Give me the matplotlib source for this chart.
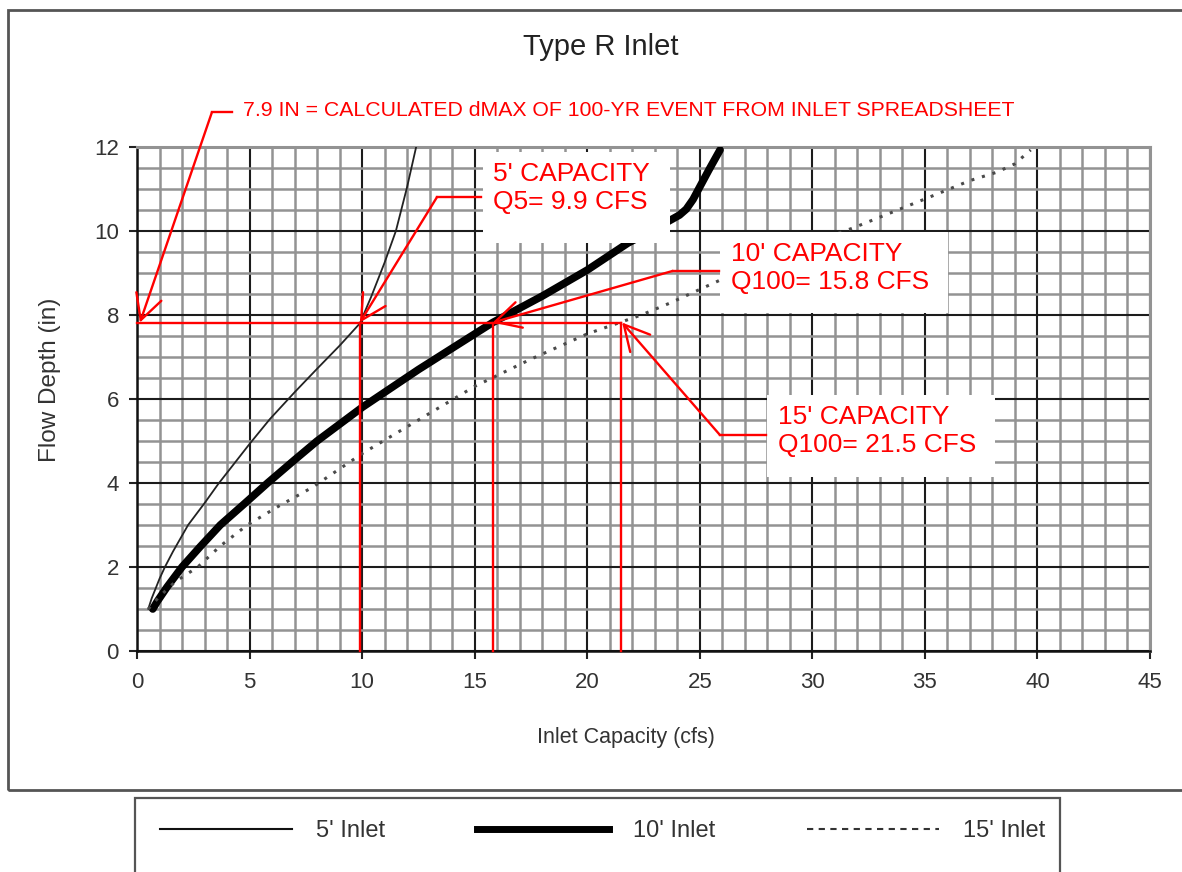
import matplotlib
matplotlib.use("Agg")
import matplotlib.pyplot as plt
from matplotlib.patches import Rectangle
from matplotlib.lines import Line2D
import numpy as np

plt.rcParams['font.family'] = ['Liberation Sans', 'DejaVu Sans']

# ---------------- data ----------------
q_5ft = [0.5, 0.65, 1.0, 1.24, 1.6, 2.27, 3.0, 3.6, 5.0, 5.9, 7.0, 8.0, 9.0, 9.9,
         10.4, 11.0, 11.5, 12.0, 12.4]
d_5ft = [1.0, 1.25, 1.72, 2.0, 2.37, 3.0, 3.52, 3.97, 4.93, 5.52, 6.16, 6.72, 7.27, 7.8,
         8.43, 9.25, 10.0, 11.05, 12.0]

q_10ft = [0.7, 0.9, 1.33, 2.0, 2.8, 3.7, 4.8, 5.8, 7.0, 8.0, 9.0, 10.0, 12.5, 15.8, 18.0,
          20.0, 21.8, 23.0, 23.7, 24.1, 24.4, 24.7, 25.0, 25.4, 25.9]
d_10ft = [1.0, 1.18, 1.52, 2.0, 2.48, 3.0, 3.52, 4.0, 4.55, 5.0, 5.4, 5.8, 6.7, 7.82, 8.45,
          9.07, 9.71, 10.05, 10.26, 10.38, 10.52, 10.75, 11.05, 11.45, 11.93]

q_15ft = [0.5, 1.0, 1.7, 2.7, 3.7, 4.9, 6.3, 7.8, 10.0, 12.5, 15.0, 17.5, 20.0, 22.4, 23.7,
          25.9, 28.5, 31.8, 34.9, 37.0, 38.2, 39.0, 39.7]
d_15ft = [1.0, 1.3, 1.65, 2.0, 2.5, 3.0, 3.45, 3.9, 4.7, 5.5, 6.3, 6.95, 7.55, 8.0, 8.29,
          8.83, 9.45, 10.07, 10.74, 11.2, 11.4, 11.6, 11.93]

series_labels = ["5' Inlet", "10' Inlet", "15' Inlet"]

d_max_line = 7.82            # calculated dMAX line as drawn
cap_5ft_q5 = 9.9
cap_10ft_q100 = 15.8
cap_15ft_q100 = 21.5

x_major = np.arange(0, 46, 5)
x_minor = np.arange(0, 46, 1)
y_major = np.arange(0, 13, 2)
y_minor = np.arange(0, 12.01, 0.5)

title = "Type R Inlet"
xlabel = "Inlet Capacity (cfs)"
ylabel = "Flow Depth (in)"
note_dmax = "7.9 IN = CALCULATED dMAX OF 100-YR EVENT FROM INLET SPREADSHEET"
note_5 = "5' CAPACITY\nQ5= 9.9 CFS"
note_10 = "10' CAPACITY\nQ100= 15.8 CFS"
note_15 = "15' CAPACITY\nQ100= 21.5 CFS"

# ---------------- figure ----------------
W, H = 1182, 872
fig = plt.figure(figsize=(W / 100, H / 100), dpi=100)
fig.patch.set_facecolor('white')

def fx(px):
    return px / W

def fy(py):
    return 1 - py / H

ax = fig.add_axes([fx(137), fy(651), fx(1150) - fx(137), fy(147) - fy(651)])
ax.set_xlim(0, 45)
ax.set_ylim(0, 12)

RED = '#ff0000'
GRID_MINOR = '#939393'
GRID_MAJOR = '#1c1c1c'

ax.set_xticks(x_major)
ax.set_xticks(x_minor, minor=True)
ax.set_yticks(y_major)
ax.set_yticks(y_minor, minor=True)
ax.set_axisbelow(True)
ax.grid(which='minor', color=GRID_MINOR, lw=1.8)
ax.grid(which='major', color=GRID_MAJOR, lw=1.5)
ax.tick_params(which='minor', length=0)
ax.tick_params(which='major', direction='out', length=6, width=1.5, color='#222',
               labelsize=16, labelcolor='#333')
ax.tick_params(axis='x', which='major', pad=9)
ax.tick_params(axis='y', which='major', pad=7)
for s in ['left', 'bottom']:
    ax.spines[s].set_color('#111')
    ax.spines[s].set_linewidth(1.8)
for s in ['top', 'right']:
    ax.spines[s].set_color(GRID_MINOR)
    ax.spines[s].set_linewidth(2.2)

# curves
l5, = ax.plot(q_5ft, d_5ft, color='#222', lw=1.3, zorder=3,
              solid_capstyle='round', solid_joinstyle='round')
l10, = ax.plot(q_10ft, d_10ft, color='#000', lw=5.5, zorder=3,
               solid_capstyle='round', solid_joinstyle='round')
l15, = ax.plot(q_15ft, d_15ft, color='#4a4a4a', lw=2.2, linestyle=(0, (1.0, 2.6)), zorder=3)

# labels
ax.set_xlabel(xlabel, fontsize=15.5, color='#333', va='center')
ax.xaxis.set_label_coords((626 - 137) / 1013, (651 - 737) / 504)
ax.set_ylabel(ylabel, fontsize=17.5, color='#333', va='center')
ax.yaxis.set_label_coords((50 - 137) / 1013, (651 - 380) / 504)
fig.text(fx(601), fy(47), title, ha='center', va='center', fontsize=21, color='#222')

# ---------------- red annotations ----------------
red_kw = dict(color=RED, lw=1.7, clip_on=False, zorder=6)
arrow_kw = dict(arrowstyle='->,head_length=1.8,head_width=0.95', color=RED, lw=1.7,
                shrinkA=0, shrinkB=0, mutation_scale=10)

# dMAX line and capacity verticals
ax.plot([0, cap_15ft_q100], [d_max_line, d_max_line], **red_kw)
for q in (cap_5ft_q5, cap_10ft_q100, cap_15ft_q100):
    ax.plot([q, q], [0, d_max_line], **red_kw)

# white label boxes
for (x0, y0, x1, y1) in [(15.38, 9.71, 23.69, 11.88),
                         (25.91, 8.05, 36.04, 9.98),
                         (28.0, 4.14, 38.13, 6.10)]:
    ax.add_patch(Rectangle((x0, y0), x1 - x0, y1 - y0, facecolor='white',
                           edgecolor='none', zorder=4))

def leader(text_edge, knee, tip):
    ax.plot([text_edge[0], knee[0]], [text_edge[1], knee[1]], **red_kw)
    ax.annotate('', xy=tip, xytext=knee, arrowprops=arrow_kw,
                annotation_clip=False, zorder=6)

leader((4.22, 12.83), (3.33, 12.83), (0.13, d_max_line))
leader((15.3, 10.81), (13.33, 10.81), (cap_5ft_q5, d_max_line))
leader((25.85, 9.05), (23.8, 9.05), (cap_10ft_q100, d_max_line))
leader((27.96, 5.14), (25.9, 5.14), (cap_15ft_q100 + 0.05, d_max_line))

ax.text(4.71, 12.88, note_dmax, color=RED, fontsize=15.3, ha='left', va='center',
        clip_on=False, zorder=7)
ax.text(15.8, 11.03, note_5, color=RED, fontsize=19, ha='left', va='center',
        linespacing=1.2, zorder=7)
ax.text(26.4, 9.11, note_10, color=RED, fontsize=19, ha='left', va='center',
        linespacing=1.2, zorder=7)
ax.text(28.49, 5.23, note_15, color=RED, fontsize=19, ha='left', va='center',
        linespacing=1.2, zorder=7)

# ---------------- frames and legend ----------------
fig.add_artist(Rectangle((fx(8), fy(790)), fx(1200) - fx(8), fy(10) - fy(790),
                         transform=fig.transFigure, fill=False, edgecolor='#555', lw=2.0))
fig.add_artist(Rectangle((fx(135), fy(890)), fx(1060) - fx(135), fy(798) - fy(890),
                         transform=fig.transFigure, fill=False, edgecolor='#555', lw=1.6))

h5 = Line2D([], [], color='#111', lw=1.5)
h10 = Line2D([], [], color='#000', lw=5.0)
h15 = Line2D([], [], color='#333', lw=1.5, linestyle=(0, (3.0, 2.6)))
leg = fig.legend([h5, h10, h15], series_labels, ncol=3, loc='center left',
                 bbox_to_anchor=(fx(160), fy(831)), frameon=False, fontsize=17,
                 handlelength=5.6, handletextpad=1.0, columnspacing=3.9,
                 borderpad=0, borderaxespad=0)
for t in leg.get_texts():
    t.set_color('#333')

fig.savefig('out.png', dpi=100)
